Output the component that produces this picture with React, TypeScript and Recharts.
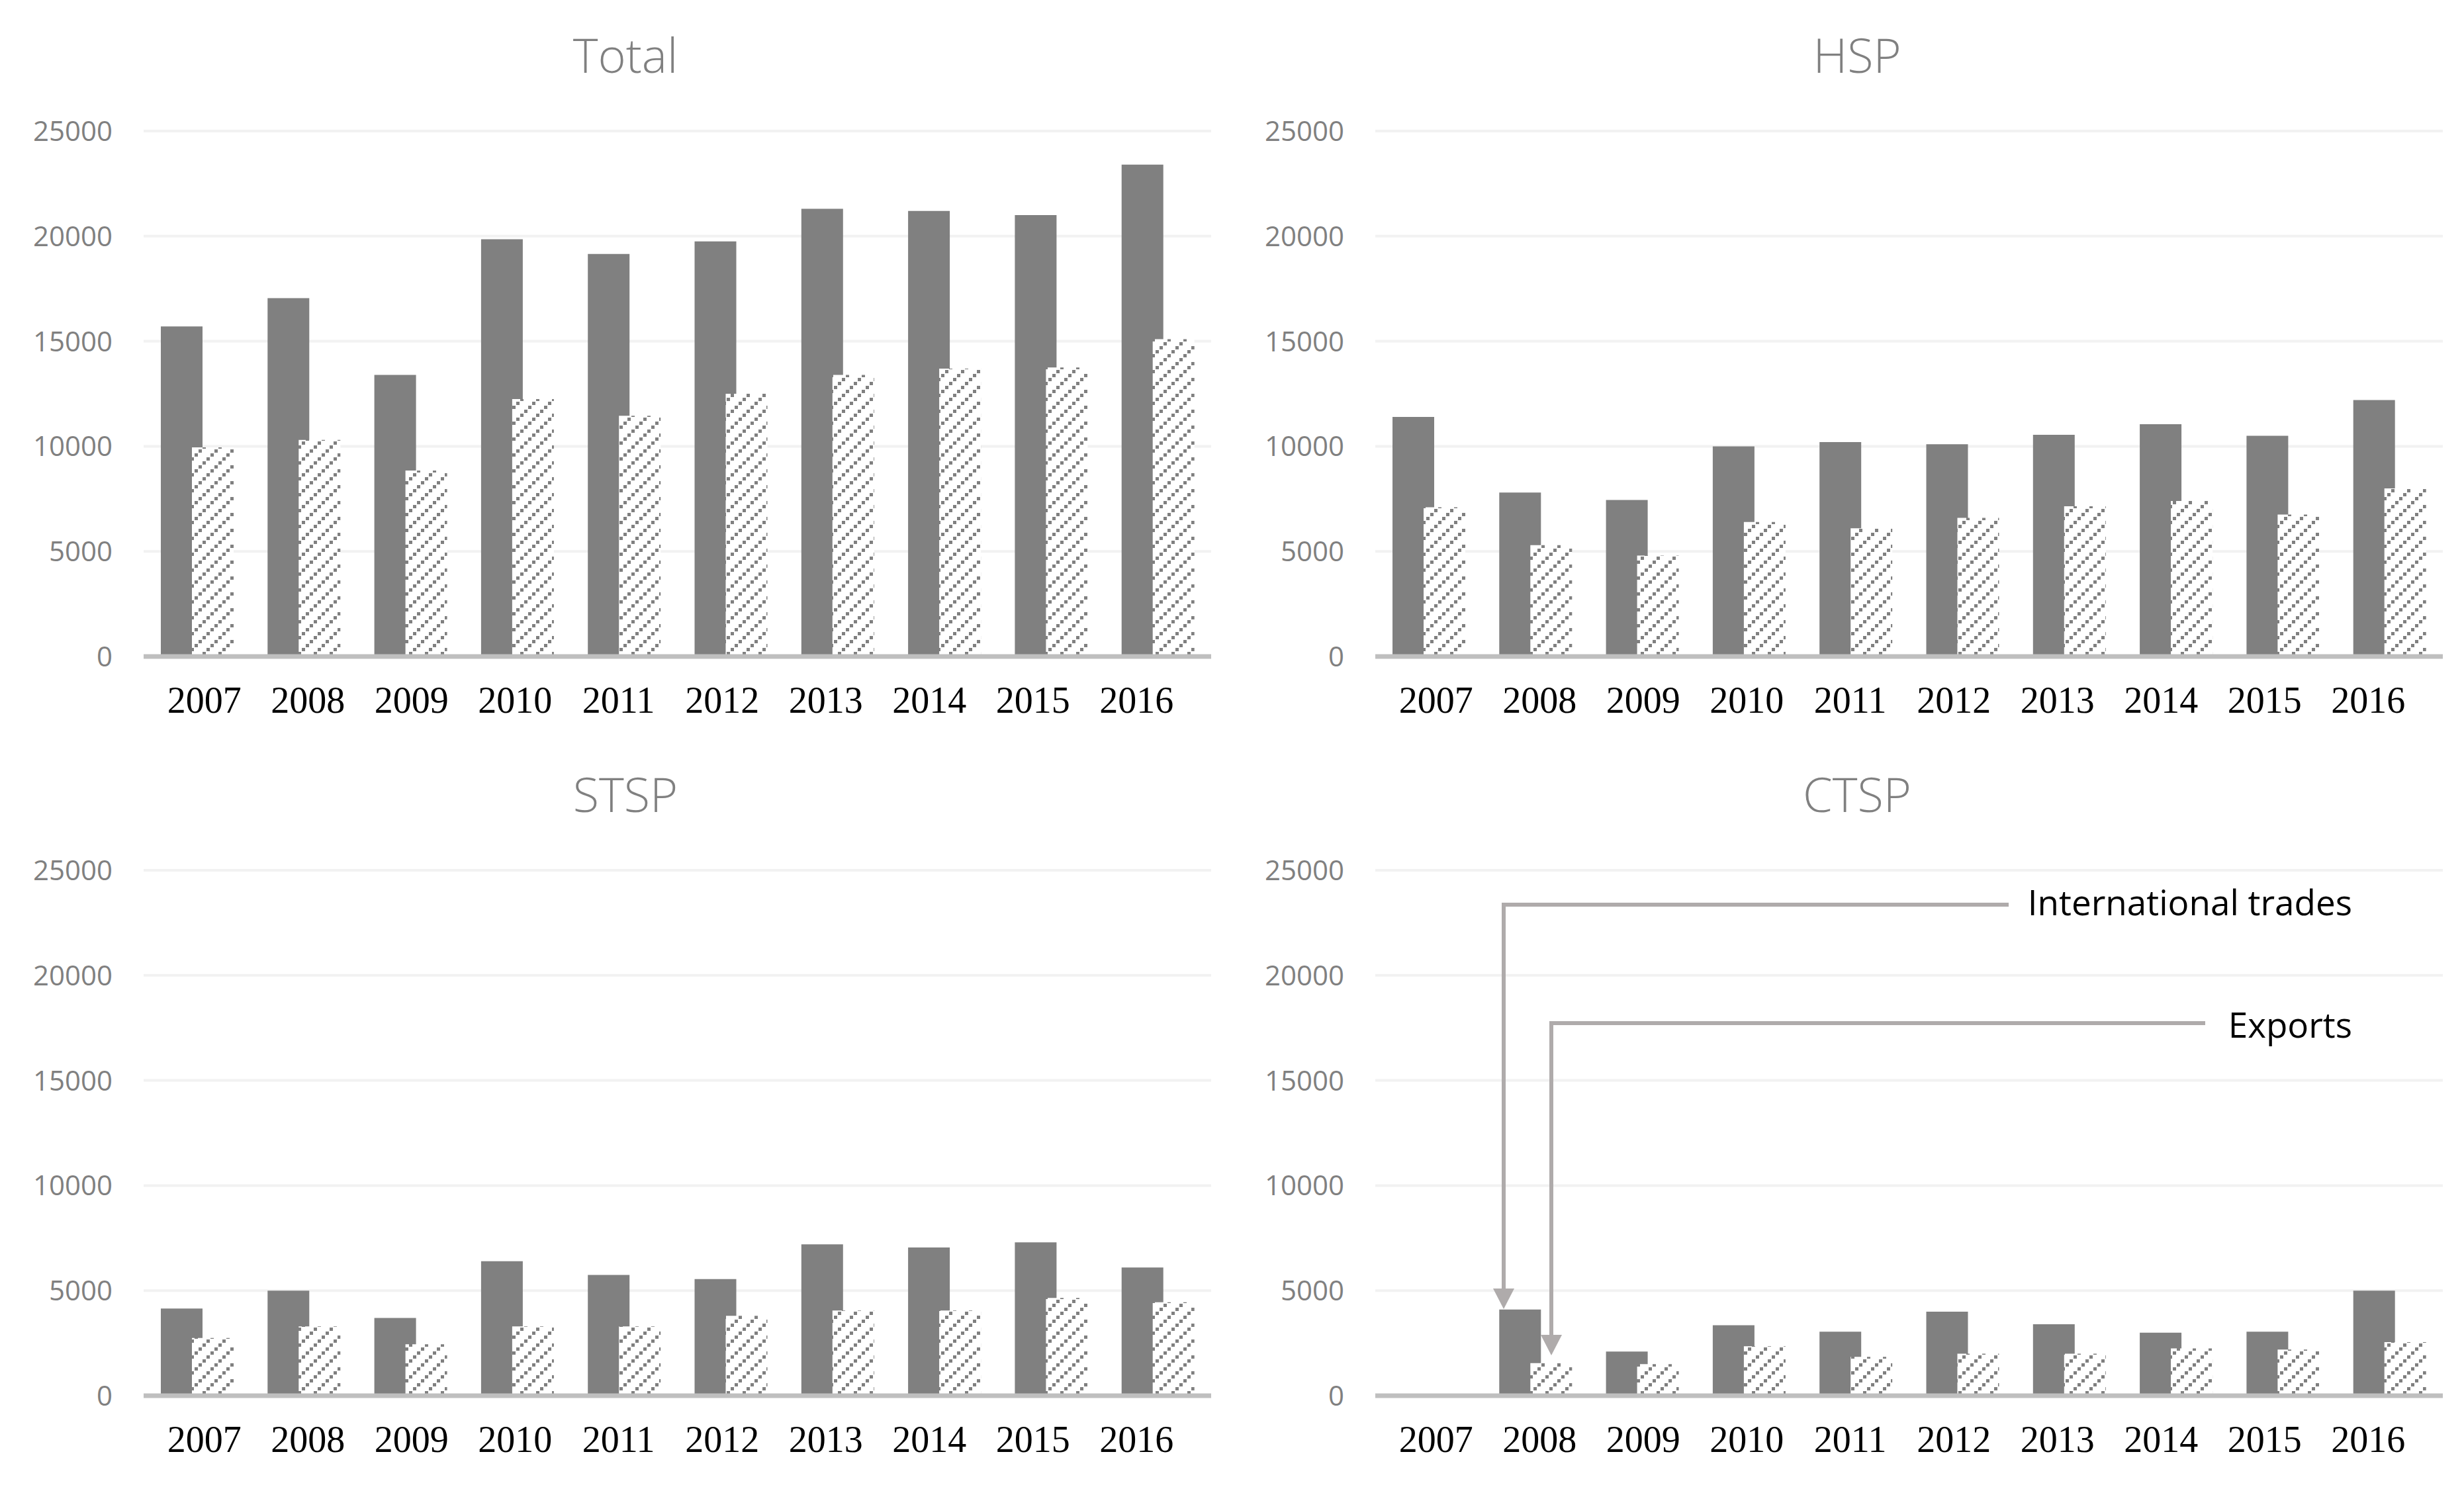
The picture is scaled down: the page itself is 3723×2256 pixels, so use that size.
import { BarChart, Bar, XAxis, YAxis, CartesianGrid } from "recharts";

const years = ["2007", "2008", "2009", "2010", "2011", "2012", "2013", "2014", "2015", "2016"];
const yTicks = [0, 5000, 10000, 15000, 20000, 25000];

// international trades (solid) and exports (hatched)
const totalTrades = [15700, 17050, 13400, 19850, 19150, 19750, 21300, 21200, 21000, 23400];
const totalExports = [9950, 10300, 8850, 12250, 11450, 12500, 13400, 13700, 13750, 15100];
const hspTrades = [11400, 7800, 7450, 10000, 10200, 10100, 10550, 11050, 10500, 12200];
const hspExports = [7100, 5300, 4800, 6400, 6100, 6600, 7150, 7400, 6750, 8000];
const stspTrades = [4150, 5000, 3700, 6400, 5750, 5550, 7200, 7050, 7300, 6100];
const stspExports = [2750, 3300, 2450, 3300, 3300, 3800, 4050, 4050, 4650, 4450];
const ctspTrades = [0, 4100, 2100, 3350, 3050, 4000, 3400, 3000, 3050, 5000];
const ctspExports = [0, 1550, 1500, 2350, 1850, 2000, 2000, 2250, 2200, 2550];

const panels = [
  { title: "Total", trades: totalTrades, exports: totalExports, left: 0, top: 0 },
  { title: "HSP", trades: hspTrades, exports: hspExports, left: 1861, top: 0 },
  { title: "STSP", trades: stspTrades, exports: stspExports, left: 0, top: 1117 },
  { title: "CTSP", trades: ctspTrades, exports: ctspExports, left: 1861, top: 1117 },
];

const GRAY = "#808080";
const LINE = "#afabab";
const SANS = "'Open Sans', 'Noto Sans', sans-serif";
const PW = 1861;
const PH = 1117;

function YearTick(props: any) {
  const { x, y, payload, index } = props;
  return (
    <text
      x={x + 11 - 4.8 * index}
      y={y}
      dy="0.71em"
      textAnchor="middle"
      fontFamily="'Liberation Serif', 'Times New Roman', serif"
      fontSize={56}
      fill="#000"
    >
      {payload.value}
    </text>
  );
}

function Panel({ trades, exports }: { trades: number[]; exports: number[] }) {
  const data = years.map((year, i) => ({ year, trades: trades[i], exports: exports[i] }));
  return (
    <BarChart
      width={PW}
      height={PH}
      data={data}
      margin={{ top: 198, right: 31, bottom: 25, left: 0 }}
      barSize={63}
      barGap={-16}
    >
      <CartesianGrid vertical={false} stroke="#f2f2f2" strokeWidth={4} />
      <XAxis
        dataKey="year"
        height={100}
        axisLine={{ stroke: "#bfbfbf", strokeWidth: 7 }}
        tickLine={false}
        tickSize={0}
        tickMargin={45}
        tick={<YearTick />}
        interval={0}
      />
      <YAxis
        width={217}
        domain={[0, 25000]}
        ticks={yTicks}
        axisLine={false}
        tickLine={false}
        tickSize={0}
        tickMargin={47}
        tick={{ fontFamily: SANS, fontSize: 42, fill: GRAY }}
        interval={0}
      />
      <Bar dataKey="trades" fill={GRAY} isAnimationActive={false} />
      <Bar dataKey="exports" fill="url(#hatch)" isAnimationActive={false} />
    </BarChart>
  );
}

export default function App() {
  return (
    <div
      style={{
        position: "absolute",
        left: 0,
        top: 0,
        width: 3723,
        height: 2256,
        background: "#fff",
        overflow: "hidden",
      }}
    >
      <svg width={0} height={0} style={{ position: "absolute" }}>
        <defs>
          <pattern id="hatch" patternUnits="userSpaceOnUse" width={24} height={24}>
            <rect width={24} height={24} fill="#fff" />
            <rect x={0} y={19} width={5} height={5} fill={GRAY} />
            <rect x={6} y={13} width={5} height={5} fill={GRAY} />
            <rect x={12} y={7} width={5} height={5} fill={GRAY} />
            <rect x={18} y={1} width={5} height={5} fill={GRAY} />
          </pattern>
        </defs>
      </svg>

      {panels.map((p) => (
        <div key={p.title} style={{ position: "absolute", left: p.left, top: p.top }}>
          <Panel trades={p.trades} exports={p.exports} />
        </div>
      ))}

      <svg
        width={3723}
        height={2256}
        style={{ position: "absolute", left: 0, top: 0, pointerEvents: "none" }}
      >
        {panels.map((p) => (
          <text
            key={p.title}
            x={p.left + 945}
            y={p.top + 110}
            textAnchor="middle"
            fontFamily={SANS}
            fontWeight={300}
            fontSize={72}
            fill={GRAY}
          >
            {p.title}
          </text>
        ))}

        {/* callouts in the CTSP panel */}
        <path d="M3035 1367 H2272 V1950" fill="none" stroke={LINE} strokeWidth={6} />
        <polygon points="2256,1947 2288,1947 2272,1978" fill={LINE} />
        <path d="M3332 1546 H2344 V2020" fill="none" stroke={LINE} strokeWidth={6} />
        <polygon points="2328,2017 2360,2017 2344,2048" fill={LINE} />
        <text x={3554} y={1383} textAnchor="end" fontFamily={SANS} fontSize={53} fill="#000">
          International trades
        </text>
        <text x={3554} y={1568} textAnchor="end" fontFamily={SANS} fontSize={53} fill="#000">
          Exports
        </text>
      </svg>
    </div>
  );
}
